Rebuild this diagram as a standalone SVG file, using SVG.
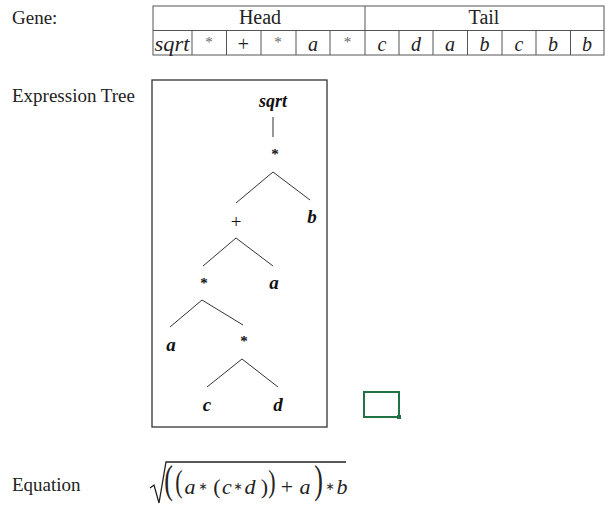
<svg xmlns="http://www.w3.org/2000/svg" width="608" height="505" viewBox="0 0 608 505">
<style>
.lbl{font-family:"Liberation Serif","Times New Roman",serif;font-size:19px;fill:#222}
.cell{font-family:"Liberation Serif","Times New Roman",serif;font-size:20px;fill:#222;text-anchor:middle}
.it{font-style:italic}
.ast{font-size:15px;fill:#666}
.tn{font-family:"Liberation Serif","Times New Roman",serif;font-size:19px;fill:#111;text-anchor:middle;font-weight:bold;font-style:italic}
.op{font-style:normal;font-size:15px}
.pl{font-style:normal;font-weight:normal;font-size:19px}
.edge{stroke:#333;stroke-width:1;fill:none}
.grid{stroke:#555;stroke-width:1;fill:none}
.eq{font-family:"Liberation Serif","Times New Roman",serif;font-size:22px;fill:#222;font-style:italic;text-anchor:middle}
.eqn{font-style:normal}
.big{font-style:normal;font-size:26px}
.star{font-family:"DejaVu Sans",sans-serif;font-style:normal;font-size:11px}
</style>
<rect width="608" height="505" fill="#fff"/>
<text class="lbl" x="12" y="24">Gene:</text>
<text class="lbl" x="12" y="102">Expression Tree</text>
<text class="lbl" x="12" y="491">Equation</text>
<g id="gene-table">
<rect class="grid" x="153" y="6" width="451" height="49" stroke="#333" stroke-width="1.3"/>
<line class="grid" x1="153" y1="30.5" x2="604" y2="30.5"/>
<line class="grid" x1="365" y1="6" x2="365" y2="55"/>
<g class="grid">
<line x1="192" y1="30.5" x2="192" y2="55"/>
<line x1="226.5" y1="30.5" x2="226.5" y2="55"/>
<line x1="261" y1="30.5" x2="261" y2="55"/>
<line x1="296" y1="30.5" x2="296" y2="55"/>
<line x1="330" y1="30.5" x2="330" y2="55"/>
<line x1="399" y1="30.5" x2="399" y2="55"/>
<line x1="433" y1="30.5" x2="433" y2="55"/>
<line x1="467.5" y1="30.5" x2="467.5" y2="55"/>
<line x1="502" y1="30.5" x2="502" y2="55"/>
<line x1="536" y1="30.5" x2="536" y2="55"/>
<line x1="570.5" y1="30.5" x2="570.5" y2="55"/>
</g>
<text class="cell" x="260" y="24">Head</text>
<text class="cell" x="484" y="24">Tail</text>
<text class="cell it" x="172" y="51" textLength="35" lengthAdjust="spacingAndGlyphs">sqrt</text>
<text class="cell ast" x="209" y="47">*</text>
<text class="cell" x="243.5" y="51">+</text>
<text class="cell ast" x="278" y="47">*</text>
<text class="cell it" x="313" y="51">a</text>
<text class="cell ast" x="347.5" y="47">*</text>
<text class="cell it" x="382" y="51">c</text>
<text class="cell it" x="416" y="51">d</text>
<text class="cell it" x="450" y="51">a</text>
<text class="cell it" x="484.5" y="51">b</text>
<text class="cell it" x="519" y="51">c</text>
<text class="cell it" x="553" y="51">b</text>
<text class="cell it" x="587" y="51">b</text>
</g>
<rect id="tree-frame" x="152" y="80" width="175" height="347" fill="none" stroke="#333" stroke-width="1.3"/>
<g id="connectors">
<line class="edge" x1="273" y1="117" x2="273" y2="137"/>
<polyline class="edge" points="236,203 273,172 310,200"/>
<polyline class="edge" points="203,266 236,238 273,266"/>
<polyline class="edge" points="170,327 202,300 243,325"/>
<polyline class="edge" points="207,387 242,359 278,387"/>
</g>
<g id="n-sqrt"><text class="tn" x="273" y="107" style="font-size:18px">sqrt</text></g>
<g id="n-mul1"><text class="tn op" x="275" y="159">*</text></g>
<g id="n-plus"><text class="tn pl" x="236" y="228">+</text></g>
<g id="n-b"><text class="tn" x="312" y="223">b</text></g>
<g id="n-mul2"><text class="tn op" x="204" y="288">*</text></g>
<g id="n-a1"><text class="tn" x="274" y="289">a</text></g>
<g id="n-a2"><text class="tn" x="171" y="351">a</text></g>
<g id="n-mul3"><text class="tn op" x="244" y="346">*</text></g>
<g id="n-c"><text class="tn" x="207" y="411">c</text></g>
<g id="n-d"><text class="tn" x="278" y="411">d</text></g>
<g id="cell-select">
<rect x="364" y="392" width="35" height="25" fill="none" stroke="#217346" stroke-width="2"/>
<rect x="397" y="415" width="4" height="4" fill="#217346"/>
</g>
<g id="equation">
<path d="M150,488 L154,485 L159,503 L166,462 L346,462" fill="none" stroke="#222" stroke-width="1.3"/>
<text class="eq big" transform="translate(168.5 492.8) scale(1 1.55)">(</text>
<text class="eq eqn" transform="translate(179 492) scale(1 1.4)">(</text>
<text class="eq" x="190" y="494">a</text>
<text class="eq star" x="203" y="490">∗</text>
<text class="eq eqn" x="217" y="494">(</text>
<text class="eq" x="227" y="494">c</text>
<text class="eq star" x="238" y="490">∗</text>
<text class="eq" x="250" y="494">d</text>
<text class="eq eqn" x="264.5" y="494">)</text>
<text class="eq eqn" transform="translate(272 492) scale(1 1.4)">)</text>
<text class="eq eqn" x="287" y="494">+</text>
<text class="eq" x="305" y="494">a</text>
<text class="eq big" transform="translate(318.5 492.8) scale(1 1.55)">)</text>
<text class="eq star" x="330" y="490">∗</text>
<text class="eq" x="342" y="494">b</text>
</g>
</svg>
